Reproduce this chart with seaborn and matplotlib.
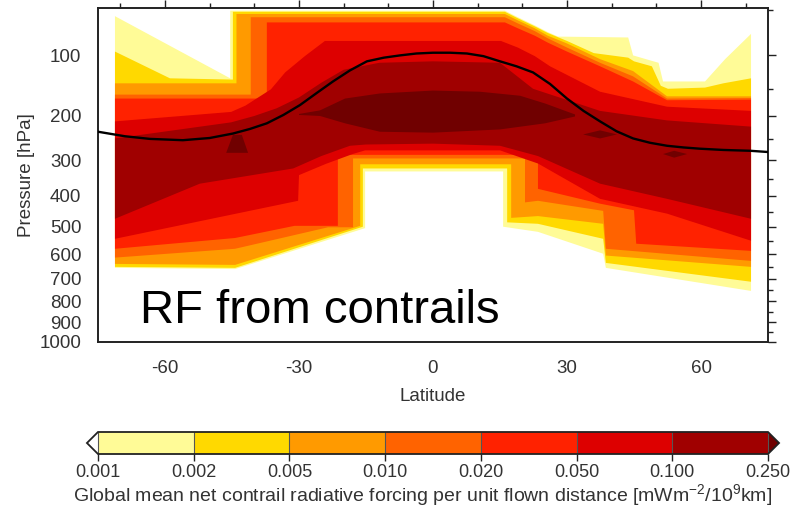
import numpy as np
import matplotlib
matplotlib.use("Agg")
import matplotlib.pyplot as plt
from matplotlib.colors import ListedColormap, BoundaryNorm
from matplotlib.cm import ScalarMappable
from matplotlib.ticker import FixedLocator, NullFormatter
import seaborn as sns

# ---------------- data ----------------
levels = [0.001, 0.002, 0.005, 0.010, 0.020, 0.050, 0.100, 0.250]
level_labels = ["0.001", "0.002", "0.005", "0.010", "0.020", "0.050", "0.100", "0.250"]
level_colors = ["#FFFB97", "#FFD900", "#FF9A00", "#FF6300", "#FF2200", "#DD0000", "#A00000"]
over_color = "#700000"
under_color = "#FFFFFF"

# region where RF >= level : top boundary west->east, bottom boundary east->west  (lat, hPa)
L1_top = [(-71.2, 56), (-45.4, 133), (-45.4, 51), (16.1, 51), (19.0, 57), (22.8, 65), (25.7, 72),
          (28.0, 77), (43.7, 78), (44.8, 100), (48.8, 107), (50.5, 110), (51.5, 138), (60.9, 138),
          (65.4, 105), (71.2, 74)]
L1_bot = [(71.2, 753), (38.7, 655), (38.1, 599), (23.5, 518), (15.7, 500), (15.7, 330),
          (-15.2, 330), (-15.2, 505), (-44.3, 660), (-71.2, 655)]

L2_top = [(-71.2, 95), (-58.9, 133), (-44.8, 135), (-44.8, 52), (16.1, 52), (19.0, 58), (22.8, 66),
          (25.7, 73), (30.0, 82), (36.0, 97), (43.7, 103), (45.0, 108), (49.0, 115), (51.0, 145),
          (52.6, 150), (60.9, 148), (65.0, 141), (71.2, 133)]
L2_bot = [(71.2, 713), (38.7, 635), (38.1, 543), (23.5, 490), (16.6, 485), (16.6, 322),
          (-15.7, 322), (-15.7, 500), (-44.3, 655), (-71.2, 651)]

L3_top = [(-71.2, 141), (-44.0, 141), (-44.0, 54), (16.1, 54), (19.0, 60), (22.8, 68), (25.7, 76),
          (30.0, 85), (37.4, 105), (44.8, 122), (52.4, 163), (71.2, 163)]
L3_bot = [(71.2, 651), (38.7, 606), (38.1, 490), (23.5, 464), (17.5, 470), (17.5, 311),
          (-16.3, 311), (-16.3, 497), (-44.3, 643), (-71.2, 639)]

L4_top = [(-71.2, 160), (-40.8, 160), (-40.8, 57), (16.1, 57), (19.0, 63), (22.8, 71), (25.7, 79),
          (30.0, 90), (37.4, 110), (44.8, 130), (52.4, 167), (71.2, 166)]
L4_bot = [(71.2, 627), (38.7, 580), (38.1, 447), (23.5, 415), (20.6, 420), (20.6, 296),
          (-17.9, 296), (-17.9, 502), (-23.5, 502), (-44.3, 580), (-71.2, 614)]

L5_top = [(-71.2, 167), (-37.2, 167), (-37.2, 62), (16.1, 62), (19.0, 68), (22.8, 76), (25.7, 84),
          (30.0, 95), (37.4, 115), (44.8, 138), (52.4, 170), (71.2, 169)]
L5_bot = [(71.2, 588), (45.5, 561), (45.0, 445), (37.4, 424), (23.5, 379), (23.5, 287),
          (-21.3, 287), (-21.3, 497), (-31.0, 497), (-44.3, 540), (-71.2, 580)]

L6_top = [(-71.2, 211), (-45.2, 192), (-42.0, 180), (-36.3, 151), (-33.1, 124), (-28.7, 101),
          (-24.2, 82), (15.2, 82), (19.0, 90), (22.8, 101), (26.2, 115), (37.4, 155), (52.4, 182),
          (71.2, 190)]
L6_bot = [(71.2, 550), (52.4, 456), (37.4, 409), (23.5, 309), (15.0, 276), (-15.2, 276),
          (-18.0, 285), (-24.0, 310), (-30.0, 340), (-30.2, 415), (-71.2, 543)]

L7_top = [(-71.2, 248), (-45.2, 213), (-40.0, 200), (-35.0, 185), (-30.0, 165), (-25.0, 140),
          (-20.0, 120), (-12.0, 110), (0.0, 108), (15.0, 110), (22.4, 150), (37.4, 190),
          (52.4, 209), (71.2, 222)]
L7_bot = [(71.2, 473), (52.4, 409), (37.4, 364), (23.5, 290), (15.0, 265), (0.0, 260),
          (-15.0, 262), (-18.6, 265), (-25.0, 290), (-31.3, 322), (-52.2, 364), (-71.2, 473)]

# RF >= 0.25 (beyond colour scale)
L8_lens = [(-30.0, 196), (-25.3, 189), (-19.7, 167), (-11.9, 158), (0.0, 153), (10.5, 155),
           (19.5, 162), (25.1, 176), (31.8, 197), (31.8, 201), (25.1, 215), (15.0, 228),
           (0.0, 235), (-11.9, 233), (-19.7, 215), (-25.3, 200), (-30.0, 198)]
L8_blob_sh = [(-44.8, 240), (-42.8, 240), (-41.4, 282), (-46.3, 282)]
L8_blob_nh1 = [(33.6, 239), (37.4, 230), (41.2, 239), (37.4, 248)]
L8_blob_nh2 = [(51.5, 285), (54.0, 277), (56.9, 285), (54.0, 294)]

# tropopause
trop_lat = [-75, -69, -63.4, -56, -50, -44.8, -41, -37.2, -33.5, -29.8, -26, -22.4, -18.6, -14.8,
            -11, -7.4, -3.7, 0, 3.8, 7.6, 11.3, 15, 18.7, 22.4, 26.2, 30, 33.7, 37.4, 41.1,
            44.8, 48.6, 52.4, 56.1, 59.8, 65, 71, 75]
trop_p = [233, 243, 249, 252, 247, 237, 227, 215, 198, 179, 157, 138, 121, 108,
          103, 100, 97.5, 96.5, 96.5, 97.5, 101, 108, 115, 124, 142, 167, 190, 211, 232,
          248, 258, 265, 269, 272, 275, 277, 280]

p_ticks = [100, 200, 300, 400, 500, 600, 700, 800, 900, 1000]
p_tick_labels = ["100", "200", "300", "400", "500", "600", "700", "800", "900", "1000"]
p_minor = [50, 150, 250, 350, 450, 550, 650, 750, 850, 950]
lat_ticks = [-60, -30, 0, 30, 60]
lat_tick_labels = ["-60", "-30", "0", "30", "60"]
lat_minor = [-70, -50, -40, -20, -10, 10, 20, 40, 50, 70]

# ---------------- style ----------------
sns.set_theme(style="white")
plt.rcParams["font.family"] = ["Liberation Sans", "DejaVu Sans"]
plt.rcParams["mathtext.fontset"] = "custom"
plt.rcParams["mathtext.rm"] = "Liberation Sans"
plt.rcParams["mathtext.it"] = "Liberation Sans:italic"
plt.rcParams["mathtext.default"] = "regular"

W, H = 797, 518
fig = plt.figure(figsize=(W / 100, H / 100), dpi=100)
fig.patch.set_facecolor("white")
ax = fig.add_axes([98 / W, 1 - 342 / H, 670 / W, 334 / H])
ax.set_facecolor("white")

ax.set_yscale("function", functions=(lambda p: np.sign(p) * np.abs(p) ** 0.4,
                                     lambda s: np.sign(s) * np.abs(s) ** 2.5))

regions = [(L1_top, L1_bot), (L2_top, L2_bot), (L3_top, L3_bot), (L4_top, L4_bot),
           (L5_top, L5_bot), (L6_top, L6_bot), (L7_top, L7_bot)]
for (top, bot), col in zip(regions, level_colors):
    pts = top + bot
    ax.fill([q[0] for q in pts], [q[1] for q in pts], color=col, lw=0, zorder=2)
for blob in [L8_lens, L8_blob_sh, L8_blob_nh1, L8_blob_nh2]:
    ax.fill([q[0] for q in blob], [q[1] for q in blob], color=over_color, lw=0, zorder=3)

sns.lineplot(x=trop_lat, y=trop_p, color="black", linewidth=1.7, sort=False,
             estimator=None, ax=ax, zorder=5)

ax.set_xlim(-75, 75)
ax.set_ylim(1000, 48.7)
ax.xaxis.set_major_locator(FixedLocator(lat_ticks))
ax.set_xticklabels(lat_tick_labels)
ax.xaxis.set_minor_locator(FixedLocator(lat_minor))
ax.yaxis.set_major_locator(FixedLocator(p_ticks))
ax.set_yticklabels(p_tick_labels)
ax.yaxis.set_minor_locator(FixedLocator(p_minor))
ax.yaxis.set_minor_formatter(NullFormatter())

tick_col = "#333333"
ax.tick_params(which="both", direction="out", top=True, right=True, labeltop=False,
               labelright=False, color="#222222", width=1.0, labelcolor=tick_col)
ax.tick_params(which="major", length=6, labelsize=13.5)
ax.tick_params(axis="x", which="major", pad=7)
ax.tick_params(axis="y", which="major", pad=6)
ax.tick_params(which="minor", length=3.5)
for s in ax.spines.values():
    s.set_visible(True)
    s.set_linewidth(1.4)
    s.set_color("#222222")

ax.set_xlabel("Latitude", fontsize=13.5, color=tick_col, labelpad=8)
ax.set_ylabel("Pressure [hPa]", fontsize=13.5, color=tick_col, labelpad=3)

ax.text(0.063, 0.057, "RF from contrails", transform=ax.transAxes, fontsize=34,
        ha="left", va="baseline", color="black", zorder=6)

# ---------------- colorbar ----------------
cmap = ListedColormap(level_colors)
cmap.set_over(over_color)
cmap.set_under(under_color)
norm = BoundaryNorm(levels, cmap.N)
sm = ScalarMappable(norm=norm, cmap=cmap)
ext = 0.0165
cax = fig.add_axes([(98 - 670 * ext) / W, 1 - 454 / H, 670 * (1 + 2 * ext) / W, 22 / H])
cb = fig.colorbar(sm, cax=cax, orientation="horizontal", extend="both", extendfrac=ext,
                  drawedges=True, ticks=levels)
cb.set_ticklabels(level_labels)
cb.outline.set_linewidth(1.3)
cb.outline.set_edgecolor("#222222")
cb.dividers.set_color("#555555")
cb.dividers.set_linewidth(0.8)
cax.tick_params(length=5, width=1, labelsize=13, pad=2, color="#222222", labelcolor=tick_col)
cb.set_label("Global mean net contrail radiative forcing per unit flown distance "
             "[mWm$^{-2}$/10$^{9}$km]", fontsize=14, color=tick_col, labelpad=1)
cax.xaxis.label.set_x(0.484)

fig.savefig("out.png", dpi=100, facecolor="white")
